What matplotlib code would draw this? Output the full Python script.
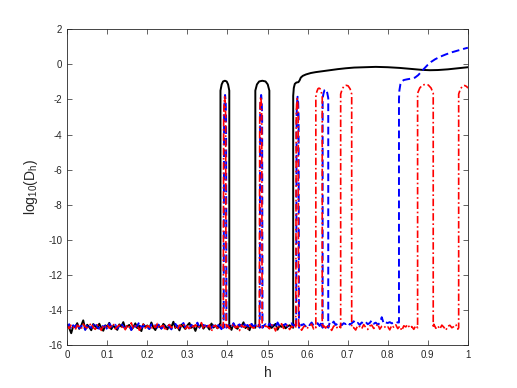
import numpy as np
import matplotlib
matplotlib.use("Agg")
import matplotlib.pyplot as plt
from matplotlib.ticker import FuncFormatter

plt.rcParams['font.family'] = ['Liberation Sans', 'DejaVu Sans']
plt.rcParams['mathtext.default'] = 'regular'

# noise floor, sampled every 0.005 in h starting at h = 0
h_step = 0.005

black_noise = [
    -14.85, -15.02, -15.31, -14.90, -14.97, -14.74, -15.06, -14.88, -14.58, -15.10,
    -14.83, -14.96, -15.14, -14.79, -14.92, -15.03, -14.77, -15.00, -15.17, -14.86,
    -14.94, -14.72, -15.08, -14.89, -14.99, -15.12, -14.81, -14.93, -14.68, -15.05,
    -14.91, -14.84, -15.11, -14.97, -14.75, -15.02, -14.88, -15.19, -14.80, -14.95,
    -14.87, -15.06, -14.70, -14.98, -15.13, -14.85, -14.92, -15.04, -14.78, -14.90,
    -15.09, -14.83, -14.96, -14.66, -15.01, -14.89, -15.15, -14.82, -14.94, -15.07,
    -14.86, -14.73, -15.00, -14.91, -15.18, -14.84, -14.97, -14.79, -15.05, -14.88,
    -14.93, -15.10, -14.76, -14.99, -14.87, -15.03, -14.81, -14.95, -14.90, -14.92,
    -14.94, -14.86, -15.12, -14.77, -14.98, -15.06, -14.83, -14.91, -14.69, -15.02,
    -14.89, -15.14, -14.80, -14.96, -14.87, -15.04, -14.74, -14.93, -15.09, -14.85,
    -14.97, -14.82, -15.01, -14.90, -14.78, -15.11, -14.88, -14.95, -14.84, -15.03,
    -14.92, -14.86, -14.94,
]

blue_noise = [
    -14.95, -14.80, -15.08, -14.86, -14.99, -14.72, -15.03, -14.91, -14.84, -15.12,
    -14.78, -14.93, -15.01, -14.87, -14.70, -14.97, -15.06, -14.82, -14.94, -14.89,
    -15.10, -14.76, -14.92, -14.98, -14.83, -15.04, -14.88, -14.74, -14.96, -15.00,
    -14.85, -14.91, -15.13, -14.79, -14.95, -14.87, -14.68, -15.02, -14.90, -14.84,
    -14.97, -15.07, -14.81, -14.93, -14.86, -14.99, -14.75, -15.05, -14.89, -14.92,
    -14.80, -14.96, -15.09, -14.85, -14.78, -14.94, -15.01, -14.88, -14.73, -14.98,
    -14.91, -15.04, -14.83, -14.95, -14.87, -14.71, -14.99, -15.06, -14.84, -14.90,
    -14.93, -14.79, -15.02, -14.86, -14.97, -14.82, -14.92, -15.08, -14.77, -14.94,
    -14.89, -14.85, -14.98, -14.74, -15.00, -14.88, -14.81, -14.95, -14.69, -14.91,
    -14.84, -14.99, -14.78, -14.93, -14.86, -14.72, -14.96, -14.83, -14.90, -14.80,
    -14.94, -14.76, -14.88, -14.85, -14.97, -14.70, -14.91, -14.82, -14.87, -14.78,
    -14.93, -14.84, -14.75, -14.89, -14.80, -14.96, -14.73, -14.86, -14.79, -14.92,
    -14.77, -14.85, -14.70, -14.88, -14.81, -14.74, -14.90, -14.68, -14.83, -14.76,
    -14.87, -14.72, -14.80, -14.65, -14.84, -14.77, -14.71, -14.86, -14.74, -14.79,
    -14.69, -14.82, -14.75, -14.63, -14.78, -14.72, -14.84, -14.70, -14.76, -14.67,
    -14.80, -14.73, -14.58, -14.77, -14.71, -14.82, -14.74, -14.40, -14.76, -14.70,
    -14.73, -14.68, -14.75, -14.71, -14.66, -14.70,
]

red_noise = [
    -14.90, -15.04, -14.82, -14.97, -15.12, -14.86, -14.93, -15.06, -14.79, -14.95,
    -15.01, -14.88, -14.74, -14.99, -15.09, -14.84, -14.92, -15.15, -14.87, -14.96,
    -14.81, -15.03, -14.91, -14.77, -15.07, -14.94, -14.85, -15.00, -14.89, -15.11,
    -14.83, -14.97, -14.72, -15.05, -14.90, -14.86, -15.14, -14.93, -14.80, -15.02,
    -14.88, -14.95, -15.08, -14.84, -14.99, -14.76, -15.04, -14.91, -14.87, -15.17,
    -14.94, -14.82, -15.00, -14.89, -14.97, -15.10, -14.85, -14.92, -14.78, -15.06,
    -14.90, -15.13, -14.86, -14.96, -14.83, -15.02, -14.93, -14.71, -15.07, -14.88,
    -14.98, -14.84, -15.20, -14.91, -14.87, -15.03, -14.95, -14.80, -15.09, -14.92,
    -14.86, -15.05, -14.94, -14.79, -15.01, -14.89, -15.16, -14.85, -14.97, -14.92,
    -15.08, -14.83, -14.96, -15.02, -14.87, -14.93, -15.12, -14.81, -14.99, -14.90,
    -14.95, -15.06, -14.84, -14.91, -15.18, -14.88, -14.97, -14.77, -15.04, -14.93,
    -14.86, -15.10, -14.92, -14.98, -14.82, -15.03, -14.89, -15.14, -14.95, -14.87,
    -15.01, -14.90, -14.79, -15.07, -14.94, -14.85, -15.11, -14.96, -14.88, -15.02,
    -14.83, -14.97, -15.15, -14.91, -14.86, -15.05, -14.93, -14.80, -15.09, -14.95,
    -14.89, -15.03, -14.84, -14.99, -15.13, -14.87, -14.94, -15.06, -14.82, -14.98,
    -15.10, -14.90, -14.85, -15.04, -14.96, -14.78, -15.08, -14.92, -14.88, -15.01,
    -14.94, -15.12, -14.86, -14.97, -14.83, -15.05, -14.91, -15.16, -14.89, -14.95,
    -14.81, -15.02, -14.93, -15.09, -14.87, -14.99, -14.84, -15.06, -14.92, -14.96,
    -15.11, -14.88, -14.95, -14.80, -15.03, -14.90, -15.07, -14.85, -14.97, -15.14,
    -14.91, -14.86, -15.00, -14.93, -14.82, -15.08, -14.94, -14.89, -15.05, -14.87,
    -14.96,
]

# peaks: (h, log10 D_h)
black_peaks = [
    [(0.3825, -15.0), (0.3825, -1.5), (0.3855, -1.15), (0.389, -0.98), (0.3935, -0.94),
     (0.398, -0.98), (0.4015, -1.15), (0.4045, -1.5), (0.4045, -15.0)],
    [(0.4695, -15.0), (0.4695, -1.5), (0.4735, -1.15), (0.479, -0.98), (0.487, -0.94),
     (0.495, -0.98), (0.5005, -1.15), (0.5045, -1.5), (0.5045, -15.0)],
    [(0.564, -15.0), (0.564, -1.8), (0.5655, -1.35), (0.568, -1.12), (0.572, -1.04),
     (0.577, -1.02), (0.580, -0.92), (0.583, -0.76), (0.588, -0.66), (0.596, -0.58),
     (0.608, -0.50), (0.62, -0.45), (0.633, -0.41), (0.6575, -0.33), (0.675, -0.28),
     (0.695, -0.23), (0.716, -0.19), (0.74, -0.17), (0.77, -0.15), (0.80, -0.17),
     (0.83, -0.21), (0.86, -0.27), (0.885, -0.32), (0.905, -0.34), (0.925, -0.33),
     (0.95, -0.29), (0.975, -0.23), (1.0, -0.17)],
]

blue_peaks = [
    [(0.3905, -15.0), (0.3915, -3.0), (0.3925, -2.1), (0.394, -1.75), (0.3955, -2.1),
     (0.3965, -3.0), (0.3975, -15.0)],
    [(0.4805, -15.0), (0.4815, -3.0), (0.4825, -2.1), (0.484, -1.75), (0.4855, -2.1),
     (0.4865, -3.0), (0.4875, -15.0)],
    [(0.5715, -15.0), (0.5725, -3.0), (0.5735, -2.2), (0.575, -1.85), (0.5765, -2.2),
     (0.5775, -3.0), (0.5785, -15.0)],
    [(0.6375, -15.0), (0.6375, -1.93), (0.640, -1.63), (0.6425, -1.46), (0.6445, -1.43),
     (0.6465, -1.46), (0.649, -1.63), (0.6515, -1.93), (0.6515, -15.0)],
    [(0.828, -14.7), (0.828, -2.0), (0.829, -1.5), (0.8315, -1.15), (0.835, -0.98),
     (0.84, -0.9), (0.848, -0.86), (0.858, -0.82), (0.868, -0.76), (0.876, -0.62),
     (0.884, -0.42), (0.892, -0.22), (0.90, -0.03), (0.908, 0.13), (0.918, 0.28),
     (0.93, 0.42), (0.945, 0.56), (0.96, 0.68), (0.975, 0.78), (0.99, 0.88), (1.0, 0.94)],
]

red_peaks = [
    [(0.3895, -15.0), (0.3905, -3.0), (0.3915, -2.2), (0.393, -1.85), (0.3945, -2.2),
     (0.3955, -3.0), (0.3965, -15.0)],
    [(0.4795, -15.0), (0.4805, -3.0), (0.4815, -2.2), (0.483, -1.85), (0.4845, -2.2),
     (0.4855, -3.0), (0.4865, -15.0)],
    [(0.5705, -15.0), (0.5715, -3.0), (0.5725, -2.3), (0.574, -1.95), (0.5755, -2.3),
     (0.5765, -3.0), (0.5775, -15.0)],
    [(0.6205, -15.0), (0.6205, -1.86), (0.623, -1.56), (0.626, -1.39), (0.6285, -1.36),
     (0.631, -1.39), (0.634, -1.56), (0.6365, -1.86), (0.6365, -15.0)],
    [(0.6825, -15.0), (0.6825, -1.7), (0.6865, -1.4), (0.6915, -1.23), (0.6963, -1.2),
     (0.701, -1.23), (0.706, -1.4), (0.710, -1.7), (0.710, -15.0)],
    [(0.8745, -15.0), (0.8745, -1.65), (0.880, -1.35), (0.887, -1.18), (0.894, -1.15),
     (0.901, -1.18), (0.908, -1.35), (0.9135, -1.65), (0.9135, -15.0)],
    [(0.977, -15.0), (0.977, -1.7), (0.9815, -1.4), (0.987, -1.24), (0.992, -1.21),
     (0.997, -1.27), (1.0, -1.36)],
]


def assemble(noise, peaks):
    h = np.arange(len(noise)) * h_step
    v = np.array(noise)
    xs, ys = [], []
    lo = -1.0
    for pk in peaks:
        a = pk[0][0]
        m = (h > lo) & (h < a)
        xs += list(h[m])
        ys += list(v[m])
        xs += [p[0] for p in pk]
        ys += [p[1] for p in pk]
        lo = pk[-1][0]
    m = h > lo
    xs += list(h[m])
    ys += list(v[m])
    return xs, ys


fig = plt.figure(figsize=(5.17, 3.88), dpi=100)
ax = fig.add_axes([0.13, 0.11, 0.775, 0.815])

bx, by = assemble(black_noise, black_peaks)
ux, uy = assemble(blue_noise, blue_peaks)
rx, ry = assemble(red_noise, red_peaks)

ax.plot(bx, by, color='k', lw=1.4)
ax.plot(ux, uy, color='#0000ff', lw=1.4, linestyle=(0, (4, 2)))
ax.plot(rx, ry, color='#ff0000', lw=1.2, linestyle=(0, (4.5, 1.6, 1, 1.6)))

ax.set_xlim(0, 1)
ax.set_ylim(-16, 2)
ax.set_xticks(np.arange(0, 1.01, 0.1))
ax.set_yticks(np.arange(-16, 2.1, 2))
ax.xaxis.set_major_formatter(FuncFormatter(lambda v, p: '%g' % round(v, 2)))
ax.yaxis.set_major_formatter(FuncFormatter(lambda v, p: '%g' % v))

gray = '#262626'
ax.tick_params(direction='in', length=3.5, width=0.5, color=gray,
               labelcolor=gray, labelsize=7, top=True, right=True)
for s in ax.spines.values():
    s.set_linewidth(0.6)
    s.set_color(gray)

ax.set_xlabel('h', fontsize=10, color=gray)
ax.set_ylabel('log$_{10}$(D$_{h}$)', fontsize=10, color=gray, labelpad=6)

fig.savefig('out.png', dpi=100)
